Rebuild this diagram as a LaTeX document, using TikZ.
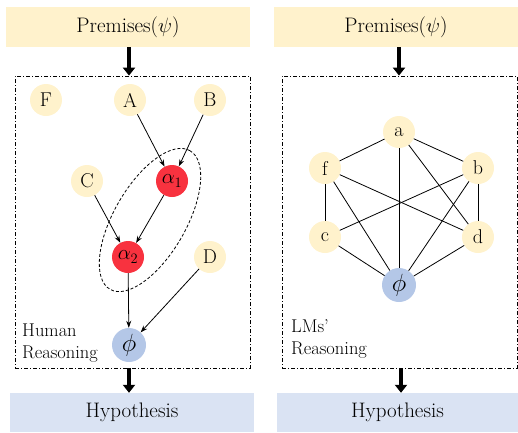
\documentclass[tikz,border=0pt]{standalone}
\usetikzlibrary{arrows.meta,shapes.geometric}
\definecolor{prem}{HTML}{FFF2CC}
\definecolor{hyp}{HTML}{DAE3F3}
\definecolor{phic}{HTML}{B4C7E7}
\definecolor{redn}{HTML}{F8323F}
\tikzset{
  bigtext/.style={font=\fontsize{21}{24}\selectfont},
  premisebox/.style={fill=prem, draw=none, minimum height=40pt, bigtext, inner sep=0pt},
  hypbox/.style={fill=hyp, draw=none, minimum height=39pt, bigtext, inner sep=0pt},
  frame/.style={draw, line width=0.8pt, dash pattern=on 4pt off 2pt on 1pt off 2pt, inner sep=0pt},
  yel/.style={circle, fill=prem, minimum size=32pt, inner sep=0pt, font=\fontsize{20}{22}\selectfont},
  rednode/.style={circle, fill=redn, minimum size=32pt, inner sep=0pt, font=\fontsize{22}{24}\selectfont},
  phinode/.style={circle, fill=phic, minimum size=34pt, inner sep=0pt, font=\fontsize{23}{24}\selectfont},
  bigarrow/.style={line width=4pt, -{Triangle[length=8pt,width=12pt]}},
  edge/.style={line width=0.8pt, -{Stealth[length=7pt,width=5pt]}},
  link/.style={line width=0.8pt},
  label/.style={align=left, anchor=north west, inner sep=0pt, font=\fontsize{18.5}{22}\selectfont},
}
\begin{document}
\begin{tikzpicture}[x=1pt,y=-1pt]
\useasboundingbox (0,0) rectangle (518,432);
% left panel
\node[premisebox, minimum width=244pt] (p1) at (128,27) {Premises($\psi$)};
\node[frame, minimum width=235pt, minimum height=292pt] (f1) at (132.5,222) {};
\node[hypbox, minimum width=244pt] (h1) at (132,412.5) {Hypothesis};
\draw[bigarrow] (129,47) coordinate (s1) -- (s1 |- f1.north);
\draw[bigarrow] (129,368) coordinate (s2) -- (s2 |- h1.north);

\node[yel] (F) at (46,100) {F};
\node[yel] (A) at (130,100) {A};
\node[yel] (B) at (210,100) {B};
\node[yel] (C) at (87,181) {C};
\node[rednode] (a1) at (172,181) {$\alpha_1$};
\node[rednode] (a2) at (128,257) {$\alpha_2$};
\node[yel] (D) at (210,257) {D};
\node[phinode] (phi1) at (129,345) {$\phi$};
\node[draw, ellipse, line width=0.8pt, dash pattern=on 3pt off 2pt, minimum width=160pt, minimum height=72pt, rotate=60] (ell) at (150,220) {};

\draw[edge] (A) -- (a1);
\draw[edge] (B) -- (a1);
\draw[edge] (a1) -- (a2);
\draw[edge] (C) -- (a2);
\draw[edge] (a2) -- (phi1);
\draw[edge] (D) -- (phi1);
\node[label] (lh) at (22,324) {Human\\Reasoning};

% right panel
\node[premisebox, minimum width=244pt] (p2) at (396,27) {Premises($\psi$)};
\node[frame, minimum width=235pt, minimum height=292pt] (f2) at (399.5,222) {};
\node[hypbox, minimum width=241pt] (h2) at (397.5,412.5) {Hypothesis};
\draw[bigarrow] (399,47) coordinate (s3) -- (s3 |- f2.north);
\draw[bigarrow] (401,368) coordinate (s4) -- (s4 |- h2.north);

\node[yel] (na) at (399,132) {a};
\node[yel] (nf) at (325,168) {f};
\node[yel] (nb) at (478,168) {b};
\node[yel] (nc) at (325,237) {c};
\node[yel] (nd) at (478,237) {d};
\node[phinode] (phi2) at (399,285) {$\phi$};
\draw[link] (na) -- (nf);
\draw[link] (na) -- (nb);
\draw[link] (na) -- (phi2);
\draw[link] (na) -- (nd);
\draw[link] (nf) -- (nc);
\draw[link] (nf) -- (nd);
\draw[link] (nf) -- (phi2);
\draw[link] (nb) -- (nc);
\draw[link] (nb) -- (nd);
\draw[link] (nb) -- (phi2);
\draw[link] (nc) -- (phi2);
\draw[link] (nd) -- (phi2);
\node[label] (ll) at (291,319) {LMs'\\Reasoning};
\end{tikzpicture}
\end{document}
